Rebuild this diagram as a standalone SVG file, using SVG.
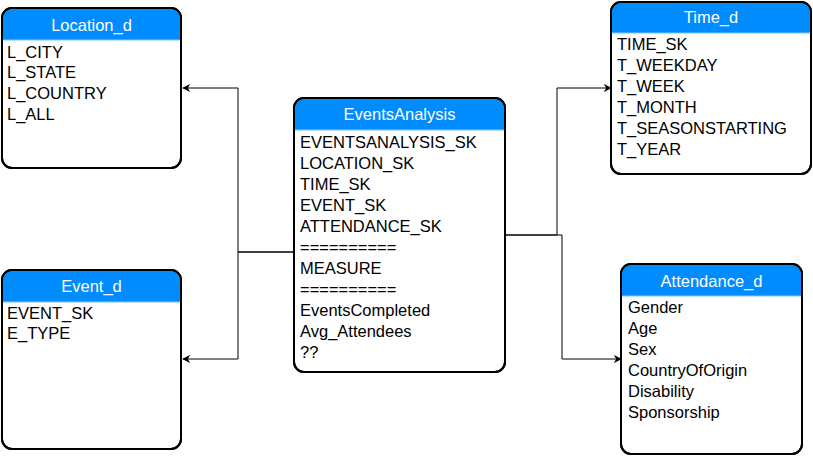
<svg xmlns="http://www.w3.org/2000/svg" width="813" height="458" viewBox="0 0 813 458">
<defs>
<style>
.box{fill:#fff;stroke:#000;stroke-width:2}
.hdr{fill:#008cff}
.sep{stroke:#7fc4ff;stroke-width:1}
.ttl{font-family:"Liberation Sans",Arial,sans-serif;font-size:16.5px;fill:#fff;text-anchor:middle}
.row{font-family:"Liberation Sans",Arial,sans-serif;font-size:16.5px;fill:#000}
.con{fill:none;stroke:#000;stroke-width:1}
</style>
<marker id="arr" viewBox="0 0 10 10" refX="9" refY="5" markerWidth="8" markerHeight="8" markerUnits="userSpaceOnUse" orient="auto">
<path d="M0,0 L10,5 L0,10 L3,5 Z" fill="#000"/>
</marker>
</defs>
<rect width="813" height="458" fill="#fff"/>
<g id="connectors">
<path class="con" d="M294,252 H238 V88 H183" marker-end="url(#arr)"/>
<path class="con" d="M294,252 H238 V359 H183" marker-end="url(#arr)"/>
<path class="con" d="M505,235 H557 V88 H611" marker-end="url(#arr)"/>
<path class="con" d="M505,235 H562 V359 H621" marker-end="url(#arr)"/>
</g>
<g id="Location_d">
<rect class="box" x="2" y="8" width="179" height="160" rx="10"/>
<path class="hdr" d="M3,40 V18 A9,9 0 0 1 12,9 H171 A9,9 0 0 1 180,18 V40 Z"/>
<line class="sep" x1="3" y1="40" x2="180" y2="40"/>
<rect x="2" y="8" width="179" height="160" rx="10" fill="none" stroke="#000" stroke-width="2"/>
<text class="ttl" x="91.5" y="30.5">Location_d</text>
<text class="row" x="7" y="57.5">L_CITY</text>
<text class="row" x="7" y="78">L_STATE</text>
<text class="row" x="7" y="98.5">L_COUNTRY</text>
<text class="row" x="7" y="119.5">L_ALL</text>
</g>
<g id="Event_d">
<rect class="box" x="2" y="270" width="179" height="179" rx="10"/>
<path class="hdr" d="M3,302 V280 A9,9 0 0 1 12,271 H171 A9,9 0 0 1 180,280 V302 Z"/>
<line class="sep" x1="3" y1="302" x2="180" y2="302"/>
<rect x="2" y="270" width="179" height="179" rx="10" fill="none" stroke="#000" stroke-width="2"/>
<text class="ttl" x="91.5" y="292">Event_d</text>
<text class="row" x="7" y="318.5">EVENT_SK</text>
<text class="row" x="7" y="339">E_TYPE</text>
</g>
<g id="EventsAnalysis">
<rect class="box" x="294" y="98" width="211" height="274" rx="10"/>
<path class="hdr" d="M295,130 V108 A9,9 0 0 1 304,99 H495 A9,9 0 0 1 504,108 V130 Z"/>
<line class="sep" x1="295" y1="130" x2="504" y2="130"/>
<rect x="294" y="98" width="211" height="274" rx="10" fill="none" stroke="#000" stroke-width="2"/>
<text class="ttl" x="399.5" y="120">EventsAnalysis</text>
<text class="row" x="300" y="147.5">EVENTSANALYSIS_SK</text>
<text class="row" x="300" y="168.5">LOCATION_SK</text>
<text class="row" x="300" y="189.5">TIME_SK</text>
<text class="row" x="300" y="210.5">EVENT_SK</text>
<text class="row" x="300" y="231.5">ATTENDANCE_SK</text>
<text class="row" x="300" y="252.5">==========</text>
<text class="row" x="300" y="273.5">MEASURE</text>
<text class="row" x="300" y="294.5">==========</text>
<text class="row" x="300" y="315.5">EventsCompleted</text>
<text class="row" x="300" y="336.5">Avg_Attendees</text>
<text class="row" x="300" y="357.5">??</text>
</g>
<g id="Time_d">
<rect class="box" x="611" y="2" width="200" height="172" rx="10"/>
<path class="hdr" d="M612,33 V12 A9,9 0 0 1 621,3 H801 A9,9 0 0 1 810,12 V33 Z"/>
<line class="sep" x1="612" y1="33" x2="810" y2="33"/>
<rect x="611" y="2" width="200" height="172" rx="10" fill="none" stroke="#000" stroke-width="2"/>
<text class="ttl" x="711" y="23">Time_d</text>
<text class="row" x="617" y="50">TIME_SK</text>
<text class="row" x="617" y="71">T_WEEKDAY</text>
<text class="row" x="617" y="92">T_WEEK</text>
<text class="row" x="617" y="113">T_MONTH</text>
<text class="row" x="617" y="134">T_SEASONSTARTING</text>
<text class="row" x="617" y="155">T_YEAR</text>
</g>
<g id="Attendance_d">
<rect class="box" x="621" y="264" width="181" height="190" rx="10"/>
<path class="hdr" d="M622,296 V274 A9,9 0 0 1 631,265 H792 A9,9 0 0 1 801,274 V296 Z"/>
<line class="sep" x1="622" y1="296" x2="801" y2="296"/>
<rect x="621" y="264" width="181" height="190" rx="10" fill="none" stroke="#000" stroke-width="2"/>
<text class="ttl" x="711.5" y="286.5">Attendance_d</text>
<text class="row" x="628" y="313">Gender</text>
<text class="row" x="628" y="334">Age</text>
<text class="row" x="628" y="355">Sex</text>
<text class="row" x="628" y="376">CountryOfOrigin</text>
<text class="row" x="628" y="397">Disability</text>
<text class="row" x="628" y="418">Sponsorship</text>
</g>
</svg>
